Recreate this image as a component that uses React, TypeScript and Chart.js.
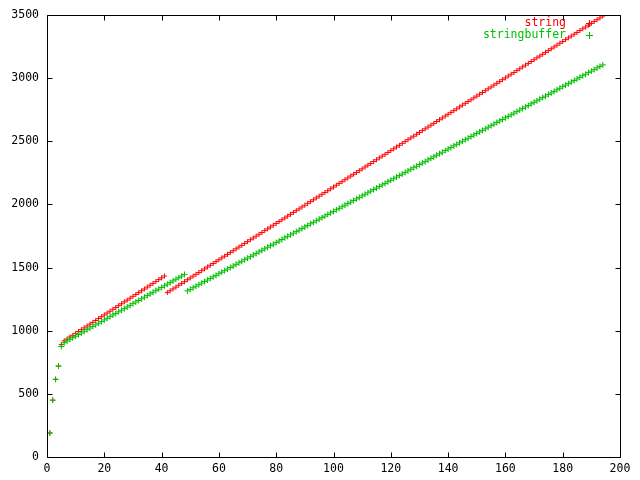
import React, { useEffect, useRef } from "react";
import { Chart, registerables } from "chart.js";

Chart.register(...registerables);

const xTickValues = [0, 20, 40, 60, 80, 100, 120, 140, 160, 180, 200];
const yTickValues = [0, 500, 1000, 1500, 2000, 2500, 3000, 3500];
const seriesNames = ["string", "stringbuffer"];

// x = 1..194
const stringValues = [
  190, 450, 615, 720, 890,
  920, 934, 950, 963, 979, 993, 1008, 1022, 1037, 1052, 1066, 1081, 1096, 1110, 1125, 1140, 1154, 1169,
  1183, 1198, 1213, 1228, 1242, 1257, 1272, 1286, 1301, 1316, 1330, 1345, 1360, 1374, 1389, 1404, 1418, 1433,
  1302, 1316, 1331, 1345, 1360, 1374, 1388, 1403, 1417, 1432, 1446, 1460, 1475, 1489, 1504, 1518, 1532, 1547,
  1561, 1576, 1590, 1604, 1619, 1633, 1648, 1662, 1676, 1691, 1705, 1720, 1734, 1748, 1763, 1777, 1792, 1806,
  1820, 1835, 1849, 1864, 1878, 1892, 1907, 1921, 1936, 1950, 1964, 1979, 1993, 2008, 2022, 2036, 2051, 2065,
  2080, 2094, 2108, 2123, 2137, 2152, 2166, 2180, 2195, 2209, 2224, 2238, 2252, 2267, 2281, 2296, 2310, 2324,
  2339, 2353, 2368, 2382, 2396, 2411, 2425, 2440, 2454, 2468, 2483, 2497, 2512, 2526, 2540, 2555, 2569, 2584,
  2598, 2612, 2627, 2641, 2656, 2670, 2684, 2699, 2713, 2728, 2742, 2756, 2771, 2785, 2800, 2814, 2828, 2843,
  2857, 2872, 2886, 2900, 2915, 2929, 2944, 2958, 2972, 2987, 3001, 3016, 3030, 3044, 3059, 3073, 3088, 3102,
  3116, 3131, 3145, 3160, 3174, 3188, 3203, 3217, 3232, 3246, 3260, 3275, 3289, 3304, 3318, 3332, 3347, 3361,
  3376, 3390, 3404, 3419, 3433, 3448, 3462, 3476, 3491,
];

const stringBufferValues = [
  190, 450, 615, 720, 875,
  905, 918, 931, 944, 956, 969, 982, 995, 1008, 1021, 1034, 1046, 1059, 1072, 1085, 1098, 1111, 1124, 1136,
  1149, 1162, 1175, 1188, 1201, 1214, 1227, 1239, 1252, 1265, 1278, 1291, 1304, 1317, 1329, 1342, 1355, 1368,
  1381, 1394, 1407, 1419, 1432, 1445,
  1315, 1327, 1340, 1352, 1364, 1377, 1389, 1401, 1414, 1426, 1438, 1451, 1463, 1475, 1488, 1500, 1512, 1525,
  1537, 1549, 1562, 1574, 1586, 1599, 1611, 1624, 1636, 1648, 1661, 1673, 1685, 1698, 1710, 1722, 1735, 1747,
  1759, 1772, 1784, 1796, 1809, 1821, 1833, 1846, 1858, 1870, 1883, 1895, 1907, 1920, 1932, 1944, 1957, 1969,
  1981, 1994, 2006, 2018, 2031, 2043, 2055, 2068, 2080, 2092, 2105, 2117, 2129, 2142, 2154, 2166, 2179, 2191,
  2203, 2216, 2228, 2240, 2253, 2265, 2278, 2290, 2302, 2315, 2327, 2339, 2352, 2364, 2376, 2389, 2401, 2413,
  2426, 2438, 2450, 2463, 2475, 2487, 2500, 2512, 2524, 2537, 2549, 2561, 2574, 2586, 2598, 2611, 2623, 2635,
  2648, 2660, 2672, 2685, 2697, 2709, 2722, 2734, 2746, 2759, 2771, 2783, 2796, 2808, 2820, 2833, 2845, 2857,
  2870, 2882, 2894, 2907, 2919, 2932, 2944, 2956, 2969, 2981, 2993, 3006, 3018, 3030, 3043, 3055, 3067, 3080,
  3092, 3104,
];

const RED = "#ff0000";
const GREEN = "#00c000";
const FONT = "DejaVu Sans Mono";

const toPoints = (vals: number[]) => vals.map((v, i) => ({ x: i + 1, y: v }));

const framePlugin = {
  id: "gnuplotFrame",
  afterDraw(chart: any) {
    const ctx = chart.ctx;
    const { left, right, top, bottom } = chart.chartArea;
    const xs = chart.scales.x;
    const ys = chart.scales.y;
    const L = Math.round(left) + 0.5;
    const R = Math.round(right) + 0.5;
    const T = Math.round(top) + 0.5;
    const B = Math.round(bottom) + 0.5;
    ctx.save();
    ctx.strokeStyle = "#000";
    ctx.lineWidth = 1;
    ctx.beginPath();
    ctx.rect(L, T, R - L, B - T);
    const tl = 5;
    xTickValues.forEach((v) => {
      const px = Math.round(xs.getPixelForValue(v)) + 0.5;
      ctx.moveTo(px, B);
      ctx.lineTo(px, B - tl);
      ctx.moveTo(px, T);
      ctx.lineTo(px, T + tl);
    });
    yTickValues.forEach((v) => {
      const py = Math.round(ys.getPixelForValue(v)) + 0.5;
      ctx.moveTo(L, py);
      ctx.lineTo(L + tl, py);
      ctx.moveTo(R, py);
      ctx.lineTo(R - tl, py);
    });
    ctx.stroke();

    // legend
    ctx.font = `11.5px "${FONT}"`;
    ctx.textAlign = "right";
    ctx.textBaseline = "middle";
    const entries = [
      { label: seriesNames[0], color: RED, y: 23 },
      { label: seriesNames[1], color: GREEN, y: 35 },
    ];
    entries.forEach((e) => {
      ctx.fillStyle = e.color;
      ctx.fillText(e.label, 566, e.y);
      ctx.strokeStyle = e.color;
      ctx.beginPath();
      ctx.moveTo(586, e.y + 0.5);
      ctx.lineTo(593, e.y + 0.5);
      ctx.moveTo(589.5, e.y - 3);
      ctx.lineTo(589.5, e.y + 4);
      ctx.stroke();
    });
    ctx.restore();
  },
};

export default function App() {
  const ref = useRef<HTMLCanvasElement | null>(null);
  useEffect(() => {
    if (!ref.current) return;
    const chart = new Chart(ref.current, {
      type: "scatter",
      data: {
        datasets: [
          {
            label: seriesNames[0],
            data: toPoints(stringValues),
            pointStyle: "cross",
            pointRadius: 2.5,
            borderWidth: 1,
            borderColor: RED,
            backgroundColor: RED,
            showLine: false,
            order: 1,
          },
          {
            label: seriesNames[1],
            data: toPoints(stringBufferValues),
            pointStyle: "cross",
            pointRadius: 3,
            borderWidth: 1,
            borderColor: GREEN,
            backgroundColor: GREEN,
            showLine: false,
            order: 0,
          },
        ],
      },
      options: {
        responsive: false,
        animation: false,
        layout: { padding: { left: 0, top: 13, right: 20, bottom: 0 } },
        plugins: { legend: { display: false }, tooltip: { enabled: false } },
        scales: {
          x: {
            type: "linear",
            min: 0,
            max: 200,
            afterBuildTicks: (s: any) => {
              s.ticks = xTickValues.map((v) => ({ value: v }));
            },
            afterFit: (s: any) => {
              s.height = 23;
            },
            grid: { display: false, drawTicks: false },
            border: { display: false },
            ticks: {
              color: "#000",
              font: { family: FONT, size: 11.5 },
              padding: 5,
              maxRotation: 0,
              autoSkip: false,
              callback: (v: any) => String(v),
            },
          },
          y: {
            type: "linear",
            min: 0,
            max: 3500,
            afterBuildTicks: (s: any) => {
              s.ticks = yTickValues.map((v) => ({ value: v }));
            },
            afterFit: (s: any) => {
              s.width = 47;
            },
            grid: { display: false, drawTicks: false },
            border: { display: false },
            ticks: {
              color: "#000",
              font: { family: FONT, size: 11.5 },
              padding: 8,
              autoSkip: false,
              callback: (v: any) => String(v),
            },
          },
        },
      },
      plugins: [framePlugin],
    });
    return () => chart.destroy();
  }, []);
  return (
    <div style={{ position: "absolute", left: 0, top: 0, width: 640, height: 480, background: "#fff" }}>
      <canvas ref={ref} width={640} height={480} />
    </div>
  );
}
